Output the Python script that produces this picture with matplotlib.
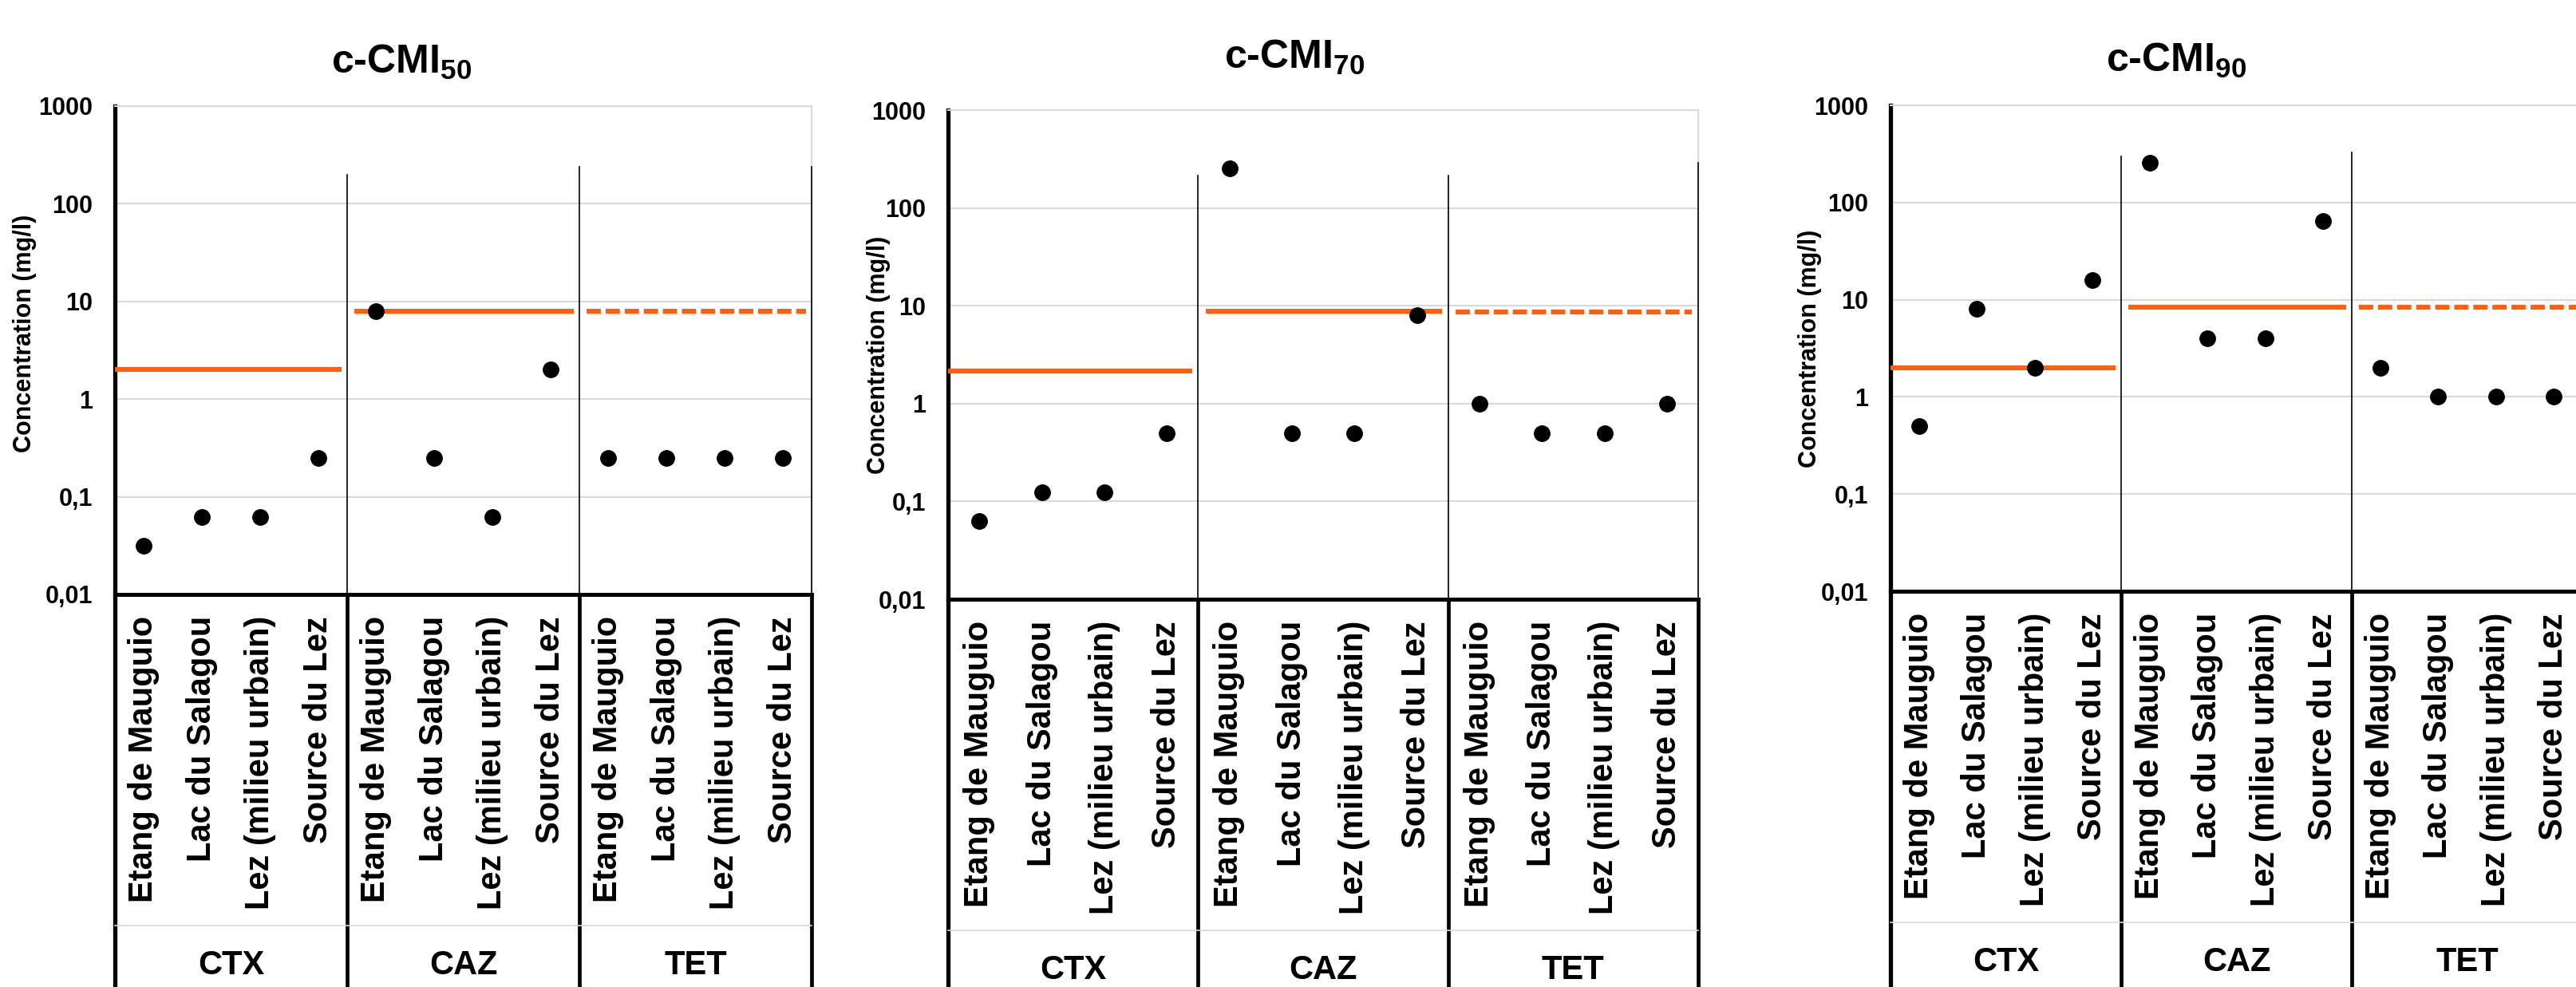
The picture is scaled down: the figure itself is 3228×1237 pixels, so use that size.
import matplotlib.pyplot as plt
from matplotlib.ticker import NullLocator
from matplotlib.transforms import blended_transform_factory

plt.rcParams["font.family"] = ["Liberation Sans", "DejaVu Sans"]
plt.rcParams["font.weight"] = "bold"
plt.rcParams["mathtext.fontset"] = "custom"
plt.rcParams["mathtext.rm"] = "Liberation Sans:bold"
plt.rcParams["mathtext.it"] = "Liberation Sans:bold"
plt.rcParams["mathtext.bf"] = "Liberation Sans:bold"

# données
sites = ["Etang de Mauguio", "Lac du Salagou", "Lez (milieu urbain)", "Source du Lez"]
antibiotiques = ["CTX", "CAZ", "TET"]
titres = ["c-CMI$_{50}$", "c-CMI$_{70}$", "c-CMI$_{90}$"]

cmi50 = [0.03125, 0.0625, 0.0625, 0.25, 8, 0.25, 0.0625, 2, 0.25, 0.25, 0.25, 0.25]
cmi70 = [0.0625, 0.125, 0.125, 0.5, 256, 0.5, 0.5, 8, 1, 0.5, 0.5, 1]
cmi90 = [0.5, 8, 2, 16, 256, 4, 4, 64, 2, 1, 1, 1]

seuils50 = [2.0, 8.0, 8.0]
seuils70 = [2.15, 8.8, 8.7]
seuils90 = [2.0, 8.4, 8.4]

yticks = [0.01, 0.1, 1, 10, 100, 1000]
ytick_labels = ["0,01", "0,1", "1", "10", "100", "1000"]

# mise en page (pixels)
W, H = 3228, 1237
boites = [(144, 1017, 133, 745), (1188, 2128, 138, 751), (2369, 3236, 132, 741)]
pos_titre = [(503, 78), (1622, 72), (2727, 76)]
pos_ylabel = [(31, 418), (1101, 445), (2268, 437)]
hauts_sep = [(200, 240, 240), (214, 214, 290), (300, 325, 325)]

orange = "#FF5F0F"
gris = "#D9D9D9"

fig = plt.figure(figsize=(W / 100, H / 100), dpi=100)

for k, (vals, seuils) in enumerate(zip([cmi50, cmi70, cmi90], [seuils50, seuils70, seuils90])):
    l, r, t, b = boites[k]
    hpx = b - t
    ax = fig.add_axes([l / W, 1 - b / H, (r - l) / W, hpx / H])

    x = list(range(len(vals)))
    ax.plot(x, vals, "o", color="black", ms=14, zorder=5)

    for g, s in enumerate(seuils):
        x0 = 4 * g - 0.5 + (0.0 if g == 0 else 0.12)
        x1 = 4 * g + 3.5 - 0.1
        ls = "-" if g < 2 else (0, (3, 1))
        ax.plot([x0, x1], [s, s], color=orange, lw=4.3, ls=ls,
                solid_capstyle="butt", dash_capstyle="butt", zorder=4)

    ax.set_yscale("log")
    ax.set_ylim(0.01, 1000)
    ax.set_xlim(-0.5, 11.5)
    ax.set_yticks(yticks)
    ax.set_yticklabels(ytick_labels)
    ax.yaxis.set_minor_locator(NullLocator())
    ax.set_xticks([])
    ax.tick_params(axis="y", length=0, pad=20, labelsize=22)
    ax.grid(axis="y", color=gris, lw=1.5, zorder=0)
    ax.set_axisbelow(True)

    ax.spines["left"].set_linewidth(3.8)
    ax.spines["bottom"].set_linewidth(3.6)
    ax.spines["top"].set_color(gris)
    ax.spines["top"].set_linewidth(1.5)
    ax.spines["right"].set_color(gris)
    ax.spines["right"].set_linewidth(1.5)

    # séparateurs des groupes
    for xs, top in zip([3.5, 7.5, 11.5], hauts_sep[k]):
        ax.plot([xs, xs], [0.01, top], color="black", lw=1.2, zorder=3, clip_on=False)

    # zone des étiquettes sous l'axe
    trans = blended_transform_factory(ax.transData, ax.transAxes)
    y_bas = -(H - b) / hpx
    for xs, lw in zip([-0.5, 3.5, 7.5, 11.5], [3.8, 3.4, 3.4, 3.4]):
        ax.plot([xs, xs], [0, y_bas], color="black", lw=lw, transform=trans, clip_on=False)
    ax.plot([-0.5, 11.5], [-415 / hpx, -415 / hpx], color=gris, lw=1.2,
            transform=trans, clip_on=False)

    for g, ab in enumerate(antibiotiques):
        for i, site in enumerate(sites):
            ax.text(4 * g + i, -27 / hpx, site, rotation=90, ha="center", va="top",
                    fontsize=30, fontweight="bold", transform=trans)
        ax.text(4 * g + 1.5, -465 / hpx, ab, ha="center", va="center",
                fontsize=30, fontweight="bold", transform=trans)

    tx, ty = pos_titre[k]
    fig.text(tx / W, 1 - ty / H, titres[k], ha="center", va="center", fontsize=36,
             fontweight="bold")
    lx, ly = pos_ylabel[k]
    fig.text(lx / W, 1 - ly / H, "Concentration (mg/l)", rotation=90, ha="center",
             va="center", fontsize=22, fontweight="bold")

plt.savefig("out.png", dpi=100)
